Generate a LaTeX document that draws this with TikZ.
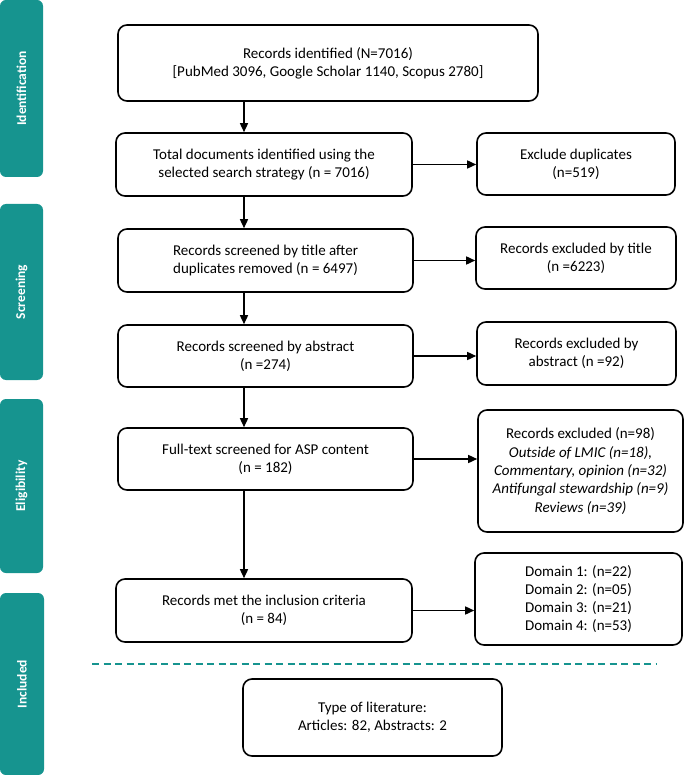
\documentclass[tikz,border=0pt]{standalone}
\usepackage{fontspec}
\setmainfont{Carlito}
\usetikzlibrary{arrows.meta}
\definecolor{tealbar}{RGB}{22,148,143}

\begin{document}
\begin{tikzpicture}[x=1pt,y=-1pt,
	box/.style={draw, line width=1.6pt, rounded corners=9pt, align=center,
		inner sep=0pt, font=\fontsize{15}{18.3}\selectfont},
	sidebar/.style={fill=tealbar, rounded corners=6pt, rotate=90, text=white,
		minimum height=43, font=\fontsize{13.5}{16}\selectfont\bfseries},
	arr/.style={line width=1.5pt, -{Triangle[length=9pt,width=8pt]}}]
	
	\useasboundingbox (0,0) rectangle (685,775);
	
	% phase bars
	\node[sidebar, minimum width=177] (ident) at (21.5,88.5) {Identification};
	\node[sidebar, minimum width=176] (screen) at (21.5,292) {Screening};
	\node[sidebar, minimum width=174] (elig) at (21.5,486) {Eligibility};
	\node[sidebar, minimum width=182, minimum height=44] (incl) at (22,684) {Included};
	
	% main column
	\node[box, minimum width=420, minimum height=76] (rec) at (328,63)
		{Records identified (N=7016)\\ {[}PubMed 3096, Google Scholar 1140, Scopus 2780{]}};
	\node[box, minimum width=296, minimum height=63] (total) at (264,164.5)
		{Total documents identified using the\\ selected search strategy (n = 7016)};
	\node[box, minimum width=295, minimum height=63] (title) at (265.5,260.5)
		{Records screened by title after\\ duplicates removed (n = 6497)};
	\node[box, minimum width=295, minimum height=62] (abstr) at (265.5,356)
		{Records screened by abstract\\ (n =274)};
	\node[box, minimum width=295, minimum height=62] (full) at (265.5,459)
		{Full-text screened for ASP content\\ (n = 182)};
	\node[box, minimum width=296, minimum height=63] (met) at (264,610.5)
		{Records met the inclusion criteria\\ (n = 84)};
	\node[box, minimum width=259, minimum height=77] (type) at (372.5,717.5)
		{Type of literature:\\ Articles: 82, Abstracts: 2};
	
	% exclusions
	\node[box, minimum width=198, minimum height=62] (dup) at (576,164)
		{Exclude duplicates\\ (n=519)};
	\node[box, minimum width=200, minimum height=62] (extitle) at (576,258)
		{Records excluded by title\\ (n =6223)};
	\node[box, minimum width=199, minimum height=63] (exabs) at (576.5,353.5)
		{Records excluded by\\ abstract (n =92)};
	\node[box, minimum width=205, minimum height=122] (exfull) at (580.5,471)
		{Records excluded (n=98)\\ \itshape Outside of LMIC (n=18),\\
		\itshape Commentary, opinion (n=32)\\ \itshape Antifungal stewardship (n=9)\\
		\itshape Reviews (n=39)};
	\node[box, minimum width=207, minimum height=92] (domain) at (578.5,599)
		{Domain 1: (n=22)\\ Domain 2: (n=05)\\ Domain 3: (n=21)\\ Domain 4: (n=53)};
	
	\coordinate (spine) at (244,0);
	
	% flow
	\draw[arr] (rec.south -| spine) -- (total.north -| spine);
	\draw[arr] (total.south -| spine) -- (title.north -| spine);
	\draw[arr] (title.south -| spine) -- (abstr.north -| spine);
	\draw[arr] (abstr.south -| spine) -- (full.north -| spine);
	\draw[arr] (full.south -| spine) -- (met.north -| spine);
	
	\draw[arr] (total.east) -- (total.east -| dup.west);
	\draw[arr] (title.east) -- (title.east -| extitle.west);
	\draw[arr] (abstr.east) -- (abstr.east -| exabs.west);
	\draw[arr] (full.east) -- (full.east -| exfull.west);
	\draw[arr] (met.east) -- (met.east -| domain.west);
	
	\coordinate (dashL) at (92,664);
	\coordinate (dashR) at (657,664);
	\draw[tealbar, line width=2pt, dash pattern=on 7pt off 4.5pt] (dashL) -- (dashR);
	
\end{tikzpicture}
\end{document}
